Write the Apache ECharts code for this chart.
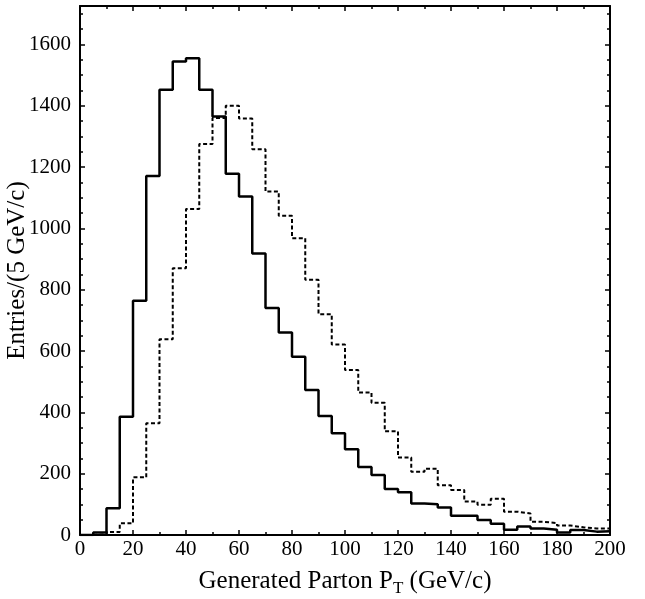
<!DOCTYPE html>
<html>
<head>
<meta charset="utf-8">
<script src="https://cdn.jsdelivr.net/npm/echarts@6/dist/echarts.min.js"></script>
<style>
html,body{margin:0;padding:0;background:#fff;}
#c{width:645px;height:599px;}
</style>
</head>
<body>
<div id="c"></div>
<script>
// Bin lower edges (GeV/c), 5 GeV/c bins
var binLow = [0,5,10,15,20,25,30,35,40,45,50,55,60,65,70,75,80,85,90,95,
              100,105,110,115,120,125,130,135,140,145,150,155,160,165,170,175,180,185,190,195];
var binEnd = 200;
// Solid histogram entries
var solidVals = [0,8,87,386,764,1171,1452,1544,1555,1452,1365,1178,1104,918,740,660,581,473,388,332,
                 280,222,196,150,139,103,100,90,63,63,49,37,17,28,21,17,8,16,11,12];
// Dashed histogram entries
var dashedVals = [0,2,10,38,188,364,638,870,1063,1275,1360,1400,1358,1258,1120,1041,968,832,720,621,
                  538,465,431,338,253,206,216,162,147,109,99,118,76,70,43,39,31,25,21,21];
var xTicks = [0,20,40,60,80,100,120,140,160,180,200];
var yTicks = [0,200,400,600,800,1000,1200,1400,1600];

function stepData(vals){
  var d = [];
  for (var i = 0; i < binLow.length; i++) d.push([binLow[i], vals[i]]);
  d.push([binEnd, vals[vals.length-1]]);
  return d;
}

var font = 'Liberation Serif';
var chart = echarts.init(document.getElementById('c'), null, {renderer:'canvas'});
var baseX = {
  type:'value', min:0, max:200, interval:20,
  axisLine:{show:true, onZero:false, lineStyle:{color:'#000', width:2}},
  axisTick:{show:true, inside:true, length:5, lineStyle:{color:'#000', width:1.5}},
  minorTick:{show:true, splitNumber:2, length:3, lineStyle:{color:'#000', width:1.5}},
  splitLine:{show:false}
};
var baseY = {
  type:'value', min:0, max:1725, interval:200,
  axisLine:{show:true, onZero:false, lineStyle:{color:'#000', width:2}},
  axisTick:{show:true, inside:true, length:5, lineStyle:{color:'#000', width:1.5}},
  minorTick:{show:true, splitNumber:4, length:3, lineStyle:{color:'#000', width:1.5}},
  splitLine:{show:false}
};
var option = {
  animation:false,
  backgroundColor:'#fff',
  grid:{left:80, top:6, width:530, height:529, containLabel:false, outerBoundsMode:'none'},
  xAxis:[
    Object.assign({}, baseX, {
      position:'bottom',
      name:'{a|Generated Parton P}{s|T}{a| (GeV/c)}',
      nameLocation:'middle', nameGap:31, nameMoveOverlap:false,
      nameTextStyle:{rich:{
        a:{fontFamily:font, fontSize:25, color:'#000'},
        s:{fontFamily:font, fontSize:17, color:'#000', verticalAlign:'bottom', padding:[14,0,0,0]}
      }},
      axisLabel:{show:true, margin:4, color:'#000', fontFamily:font, fontSize:21,
                 formatter:function(v){ return xTicks.indexOf(v) >= 0 ? String(v) : ''; }}
    }),
    Object.assign({}, baseX, {position:'top', axisLabel:{show:false}})
  ],
  yAxis:[
    Object.assign({}, baseY, {
      position:'left',
      name:'Entries/(5 GeV/c)', nameLocation:'middle', nameGap:50, nameMoveOverlap:false,
      nameTextStyle:{fontFamily:font, fontSize:25, color:'#000'},
      axisLabel:{show:true, margin:9, color:'#000', fontFamily:font, fontSize:21,
                 showMaxLabel:false,
                 formatter:function(v){ return yTicks.indexOf(v) >= 0 ? String(v) : ''; }}
    }),
    Object.assign({}, baseY, {position:'right', axisLabel:{show:false}})
  ],
  series:[
    {type:'line', step:'end', symbol:'none', data:stepData(dashedVals),
     lineStyle:{color:'#000', width:2, type:[4,2.5]}, xAxisIndex:0, yAxisIndex:0},
    {type:'line', step:'end', symbol:'none', data:stepData(solidVals),
     lineStyle:{color:'#000', width:2.5}, xAxisIndex:0, yAxisIndex:0}
  ]
};
chart.setOption(option);
</script>
</body>
</html>
